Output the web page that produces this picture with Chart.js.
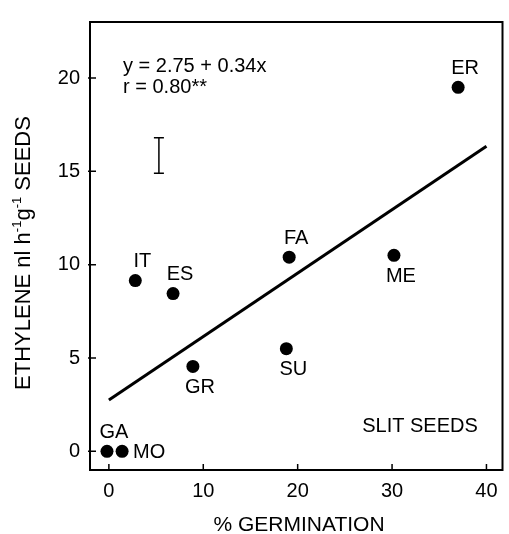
<!DOCTYPE html>
<html>
<head>
<meta charset="utf-8">
<script src="https://cdn.jsdelivr.net/npm/chart.js@4/dist/chart.umd.min.js"></script>
<style>
  body { margin: 0; background: #fff; }
  canvas { display: block; }
</style>
</head>
<body>
<canvas id="chart" width="509" height="534"></canvas>
<script>
// species and their readings
const names = ["GA", "MO", "IT", "ES", "GR", "SU", "FA", "ME", "ER"];
const germination = [-0.2, 1.4, 2.8, 6.8, 8.9, 18.8, 19.1, 30.2, 37.0];
const ethylene = [0, 0, 9.15, 8.45, 4.55, 5.5, 10.4, 10.5, 19.5];
const labelSide = ["above", "right", "above", "above", "below", "below", "above", "below", "above"];

// regression line y = 2.75 + 0.34x, drawn from 0 to 40
const fitX = [0, 40];
const fitY = [2.75, 16.35];

// error bar (LSD)
const errX = [5.3, 5.3];
const errY = [14.9, 16.8];

const xTicks = [0, 10, 20, 30, 40];
const yTicks = [0, 5, 10, 15, 20];

const FONT = "'Liberation Sans', Arial, Helvetica, sans-serif";

// ----------- extra drawing: frame, inward ticks, labels, titles -----------
const decor = {
  id: "decor",
  afterDatasetsDraw(chart) {
    const ctx = chart.ctx;
    const area = chart.chartArea;
    const xs = chart.scales.x;
    const ys = chart.scales.y;
    ctx.save();

    // frame
    ctx.strokeStyle = "#000";
    ctx.lineWidth = 2;
    ctx.strokeRect(area.left, area.top, area.right - area.left, area.bottom - area.top);

    // inward tick marks
    ctx.lineWidth = 1.5;
    ctx.beginPath();
    xTicks.forEach(v => {
      const px = xs.getPixelForValue(v);
      ctx.moveTo(px, area.bottom);
      ctx.lineTo(px, area.bottom - 6);
    });
    yTicks.forEach(v => {
      const py = ys.getPixelForValue(v);
      ctx.moveTo(area.left - 2, py);
      ctx.lineTo(area.left + 6, py);
    });
    ctx.stroke();

    // point labels
    ctx.fillStyle = "#000";
    ctx.font = "20px " + FONT;
    const meta = chart.getDatasetMeta(0);
    meta.data.forEach((pt, i) => {
      const side = labelSide[i];
      if (side === "right") {
        ctx.textAlign = "left";
        ctx.textBaseline = "middle";
        ctx.fillText(names[i], pt.x + 11, pt.y + 1);
      } else {
        ctx.textAlign = "center";
        ctx.textBaseline = "middle";
        const dy = side === "above" ? -19 : 21;
        ctx.fillText(names[i], pt.x + 7, pt.y + dy);
      }
    });

    // equation
    ctx.textAlign = "left";
    ctx.textBaseline = "alphabetic";
    ctx.font = "20px " + FONT;
    ctx.fillText("y = 2.75 + 0.34x", area.left + 33, area.top + 50);
    ctx.fillText("r = 0.80**", area.left + 33, area.top + 71);

    // panel note
    ctx.font = "20px " + FONT;
    ctx.textAlign = "center";
    ctx.textBaseline = "middle";
    ctx.fillText("SLIT SEEDS", 420, 426);

    // x title
    ctx.font = "21px " + FONT;
    ctx.textBaseline = "alphabetic";
    ctx.fillText("% GERMINATION", 299, 531);

    // y title with superscripts
    const parts = [
      ["ETHYLENE nl h", false],
      ["-1", true],
      ["g", false],
      ["-1", true],
      [" SEEDS", false]
    ];
    const big = "22px " + FONT;
    const small = "13px " + FONT;
    let total = 0;
    parts.forEach(p => {
      ctx.font = p[1] ? small : big;
      total += ctx.measureText(p[0]).width;
    });
    ctx.translate(30, 253);
    ctx.rotate(-Math.PI / 2);
    ctx.textAlign = "left";
    let cx = -total / 2;
    parts.forEach(p => {
      ctx.font = p[1] ? small : big;
      ctx.fillText(p[0], cx, p[1] ? -9 : 0);
      cx += ctx.measureText(p[0]).width;
    });

    ctx.restore();
  }
};

const ctx = document.getElementById("chart").getContext("2d");

new Chart(ctx, {
  type: "scatter",
  data: {
    datasets: [
      {
        label: "species",
        data: germination.map((g, i) => ({ x: g, y: ethylene[i] })),
        backgroundColor: "#000",
        borderWidth: 0,
        pointRadius: 6.5,
        pointHoverRadius: 6.5
      },
      {
        label: "fit",
        data: fitX.map((x, i) => ({ x: x, y: fitY[i] })),
        showLine: true,
        borderColor: "#000",
        borderWidth: 3,
        pointRadius: 0
      },
      {
        label: "error",
        data: errX.map((x, i) => ({ x: x, y: errY[i] })),
        showLine: true,
        borderColor: "#000",
        borderWidth: 1.5,
        pointStyle: "line",
        pointRadius: 5,
        pointBorderWidth: 1.5,
        pointBorderColor: "#000"
      }
    ]
  },
  options: {
    responsive: false,
    animation: false,
    layout: { padding: { top: 13, right: 4 } },
    plugins: {
      legend: { display: false },
      tooltip: { enabled: false }
    },
    scales: {
      x: {
        type: "linear",
        min: -2,
        max: 41.7,
        afterBuildTicks: s => { s.ticks = xTicks.map(v => ({ value: v })); },
        afterFit: s => { s.height = 64; },
        grid: { display: false, drawTicks: false },
        border: { display: false },
        ticks: { padding: 9, color: "#000", font: { family: FONT, size: 20 } }
      },
      y: {
        type: "linear",
        min: -1,
        max: 23,
        afterBuildTicks: s => { s.ticks = yTicks.map(v => ({ value: v })); },
        afterFit: s => { s.width = 90; },
        grid: { display: false, drawTicks: false },
        border: { display: false },
        ticks: { padding: 10, color: "#000", font: { family: FONT, size: 20 } }
      }
    }
  },
  plugins: [decor]
});
</script>
</body>
</html>
